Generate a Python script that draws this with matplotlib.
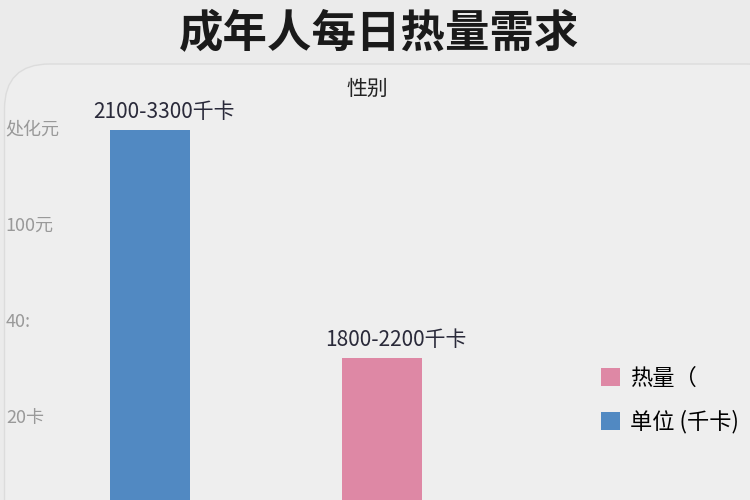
import matplotlib.pyplot as plt
from matplotlib.patches import FancyBboxPatch, Patch

plt.rcParams['font.family'] = ['Noto Sans CJK SC', 'DejaVu Sans']

# data
genders = ['男', '女']
heat = [79.6, 32.1]
bar_labels = ['2100-3300千卡', '1800-2200千卡']
colors = ['#5189c2', '#de88a5']
yticks = [20, 40, 60, 80]
ytick_labels = ['20卡', '40:', '100元', '处化元']
legend_labels = ['热量（', '单位 (千卡)']

fig = plt.figure(figsize=(7.5, 5), dpi=100)
fig.patch.set_facecolor('#ebebeb')

# rounded panel behind the plot
panel = FancyBboxPatch((0.006, -0.1), 1.05, 0.972, boxstyle='round,pad=0,rounding_size=0.06',
                       transform=fig.transFigure, facecolor='#eeeeee', edgecolor='#dcdcdc',
                       linewidth=1, zorder=-5, mutation_aspect=1.5)
fig.patches.append(panel)

fig.text(0.506, 0.932, '成年人每日热量需求', ha='center', va='center', fontsize=32,
         fontweight='bold', color='#1a1a1a')
fig.text(0.49, 0.823, '性别', ha='center', va='center', fontsize=15, color='#222222')

ax = fig.add_axes([0.08, 0.0, 0.92, 0.8])
ax.set_facecolor('none')
x = [0, 1]
ax.bar(x, heat, width=0.345, color=colors, zorder=2)
for xi, h, lab in zip(x, heat, bar_labels):
    ax.annotate(lab, (xi, h), xytext=(10, 5), textcoords='offset points',
                ha='center', va='bottom', fontsize=15, color='#2a2a3a')

ax.set_xlim(-0.388, 2.586)
ax.set_ylim(2.5, 85.8)
ax.set_xticks([])
ax.set_yticks(yticks)
ax.set_yticklabels(ytick_labels, fontsize=13, color='#999999', ha='left')
ax.tick_params(axis='y', length=0, pad=39)
for s in ax.spines.values():
    s.set_visible(False)

handles = [Patch(facecolor=colors[1]), Patch(facecolor=colors[0])]
ax.legend(handles, legend_labels, loc='center left', bbox_to_anchor=(0.755, 0.25),
          frameon=False, fontsize=16, handlelength=0.85, handleheight=0.85,
          handletextpad=0.45, labelspacing=0.9)

fig.savefig('out.png', dpi=100, facecolor=fig.get_facecolor())
